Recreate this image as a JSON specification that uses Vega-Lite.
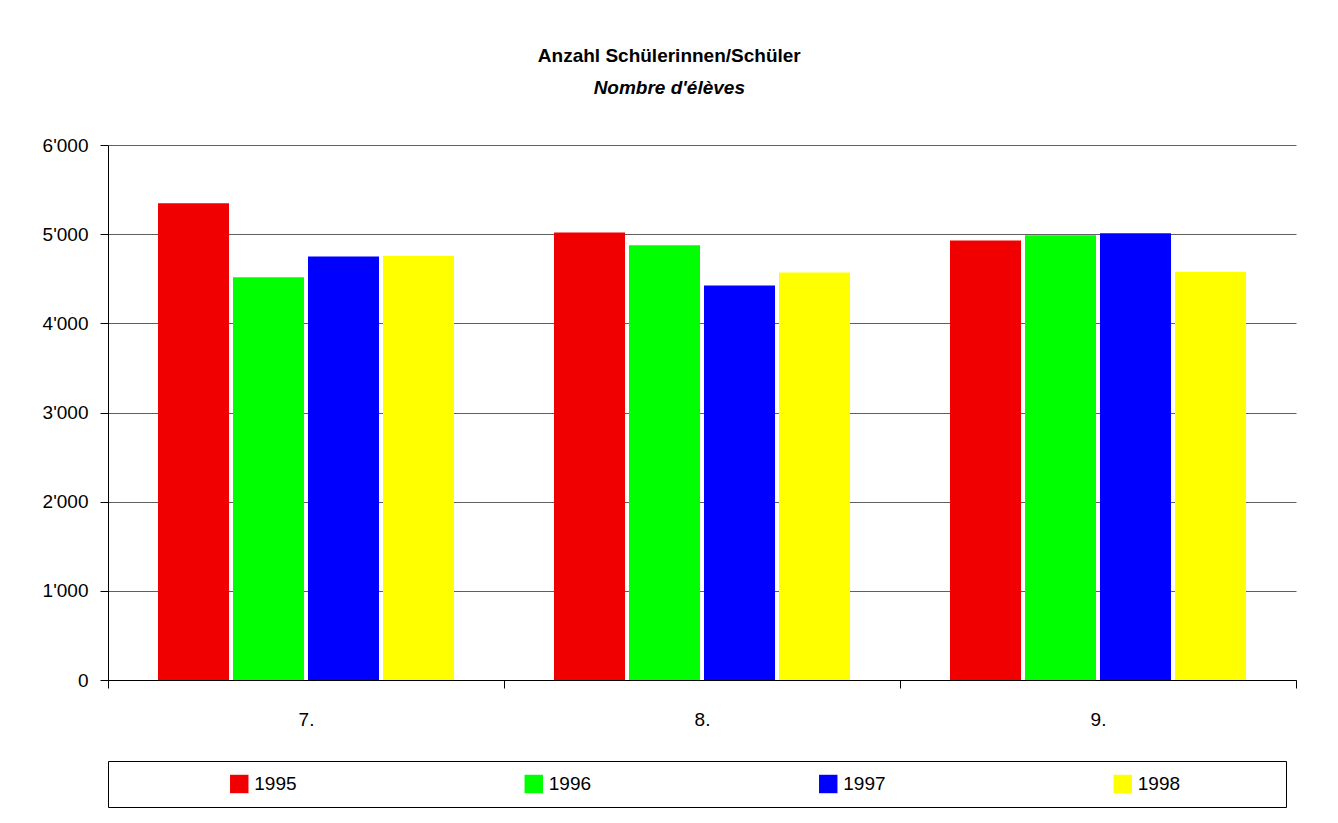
{
  "$schema": "https://vega.github.io/schema/vega-lite/v6.json",
  "padding": {"left": 42, "top": 47, "right": 10, "bottom": 5},
  "background": "white",
  "config": {"font": "Liberation Sans", "view": {"stroke": null}},
  "spacing": 31,
  "vconcat": [
    {
      "width": 1188,
      "height": 535,
      "title": {
        "text": "Anzahl Schülerinnen/Schüler",
        "subtitle": "Nombre d'élèves",
        "anchor": "middle",
        "frame": "bounds",
        "fontSize": 19,
        "fontWeight": "bold",
        "color": "black",
        "subtitleFontSize": 19,
        "subtitleFontWeight": "bold",
        "subtitleFontStyle": "italic",
        "subtitleColor": "black",
        "subtitlePadding": 13,
        "offset": 38
      },
      "data": {
        "values": [
          {"grade": "7.", "year": "1995", "count": 5347},
          {"grade": "7.", "year": "1996", "count": 4518},
          {"grade": "7.", "year": "1997", "count": 4750},
          {"grade": "7.", "year": "1998", "count": 4754},
          {"grade": "8.", "year": "1995", "count": 5019},
          {"grade": "8.", "year": "1996", "count": 4877},
          {"grade": "8.", "year": "1997", "count": 4425},
          {"grade": "8.", "year": "1998", "count": 4571},
          {"grade": "9.", "year": "1995", "count": 4929},
          {"grade": "9.", "year": "1996", "count": 4989},
          {"grade": "9.", "year": "1997", "count": 5011},
          {"grade": "9.", "year": "1998", "count": 4578}
        ]
      },
      "mark": {"type": "bar"},
      "encoding": {
        "x": {
          "field": "grade",
          "type": "nominal",
          "scale": {"paddingInner": 0, "paddingOuter": 0},
          "axis": {
            "title": null,
            "labelAngle": 0,
            "domainColor": "black",
            "tickColor": "black",
            "tickSize": 8,
            "tickBand": "extent",
            "labelFontSize": 19,
            "labelColor": "black",
            "labelPadding": 22,
            "grid": false
          }
        },
        "xOffset": {
          "field": "year",
          "type": "nominal",
          "scale": {"paddingInner": 0.053, "paddingOuter": 0.6665}
        },
        "y": {
          "field": "count",
          "type": "quantitative",
          "scale": {"domain": [0, 6000]},
          "axis": {
            "title": null,
            "values": [0, 1000, 2000, 3000, 4000, 5000, 6000],
            "labelExpr": "replace(format(datum.value, ','), ',', \"'\")",
            "grid": true,
            "gridColor": "#606060",
            "gridOpacity": 1,
            "domainColor": "black",
            "tickColor": "black",
            "tickSize": 8,
            "labelFontSize": 19,
            "labelColor": "black",
            "labelPadding": 12
          }
        },
        "color": {
          "field": "year",
          "type": "nominal",
          "scale": {"domain": ["1995", "1996", "1997", "1998"], "range": ["#F00000", "#00FF00", "#0000FF", "#FFFF00"]},
          "legend": null
        }
      }
    },
    {
      "width": 1178,
      "height": 46,
      "view": {"stroke": "black", "strokeWidth": 1},
      "data": {
        "values": [
          {"year": "1995"},
          {"year": "1996"},
          {"year": "1997"},
          {"year": "1998"}
        ]
      },
      "encoding": {
        "x": {"field": "year", "type": "nominal", "axis": null}
      },
      "layer": [
        {
          "mark": {"type": "point", "shape": "square", "filled": true, "size": 340, "opacity": 1, "xOffset": -16},
          "encoding": {
            "color": {
              "field": "year",
              "type": "nominal",
              "scale": {"domain": ["1995", "1996", "1997", "1998"], "range": ["#F00000", "#00FF00", "#0000FF", "#FFFF00"]},
              "legend": null
            }
          }
        },
        {
          "mark": {"type": "text", "align": "left", "baseline": "middle", "xOffset": -1, "fontSize": 19, "color": "black"},
          "encoding": {"text": {"field": "year"}}
        }
      ]
    }
  ]
}
